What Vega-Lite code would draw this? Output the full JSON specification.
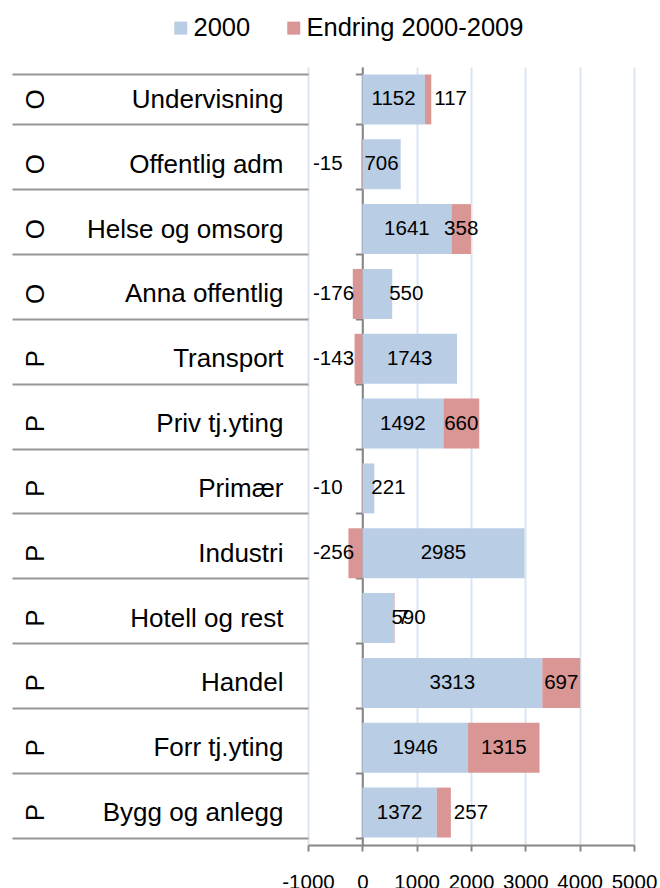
{
  "$schema": "https://vega.github.io/schema/vega-lite/v6.json",
  "width": 326,
  "height": 778,
  "autosize": {"type": "none"},
  "padding": {"left": 308, "top": 67, "right": 26, "bottom": 43},
  "background": "white",
  "config": {"font": "Liberation Sans", "view": {"stroke": null}},
  "data": {
    "values": [
      {"group": "O", "sector": "Undervisning", "series": "2000", "value": 1152},
      {"group": "O", "sector": "Undervisning", "series": "Endring 2000-2009", "value": 117},
      {"group": "O", "sector": "Offentlig adm", "series": "2000", "value": 706},
      {"group": "O", "sector": "Offentlig adm", "series": "Endring 2000-2009", "value": -15},
      {"group": "O", "sector": "Helse og omsorg", "series": "2000", "value": 1641},
      {"group": "O", "sector": "Helse og omsorg", "series": "Endring 2000-2009", "value": 358},
      {"group": "O", "sector": "Anna offentlig", "series": "2000", "value": 550},
      {"group": "O", "sector": "Anna offentlig", "series": "Endring 2000-2009", "value": -176},
      {"group": "P", "sector": "Transport", "series": "2000", "value": 1743},
      {"group": "P", "sector": "Transport", "series": "Endring 2000-2009", "value": -143},
      {"group": "P", "sector": "Priv tj.yting", "series": "2000", "value": 1492},
      {"group": "P", "sector": "Priv tj.yting", "series": "Endring 2000-2009", "value": 660},
      {"group": "P", "sector": "Primær", "series": "2000", "value": 221},
      {"group": "P", "sector": "Primær", "series": "Endring 2000-2009", "value": -10},
      {"group": "P", "sector": "Industri", "series": "2000", "value": 2985},
      {"group": "P", "sector": "Industri", "series": "Endring 2000-2009", "value": -256},
      {"group": "P", "sector": "Hotell og rest", "series": "2000", "value": 590},
      {"group": "P", "sector": "Hotell og rest", "series": "Endring 2000-2009", "value": 7},
      {"group": "P", "sector": "Handel", "series": "2000", "value": 3313},
      {"group": "P", "sector": "Handel", "series": "Endring 2000-2009", "value": 697},
      {"group": "P", "sector": "Forr tj.yting", "series": "2000", "value": 1946},
      {"group": "P", "sector": "Forr tj.yting", "series": "Endring 2000-2009", "value": 1315},
      {"group": "P", "sector": "Bygg og anlegg", "series": "2000", "value": 1372},
      {"group": "P", "sector": "Bygg og anlegg", "series": "Endring 2000-2009", "value": 257}
    ]
  },
  "transform": [{"calculate": "datum.group + '|' + datum.sector", "as": "key"}],
  "layer": [
    {
      "mark": {"type": "bar"},
      "encoding": {
        "y": {
          "field": "key", "type": "nominal", "sort": null,
          "scale": {"paddingInner": 0.23, "paddingOuter": 0.115},
          "axis": {
            "orient": "left", "title": null, "labelExpr": "split(datum.label, '|')[1]",
            "labelFontSize": 26, "labelColor": "black", "labelFont": "Liberation Sans",
            "labelAlign": "right", "labelBaseline": "middle", "labelLimit": 0,
            "tickBand": "extent", "tickSize": 296, "tickColor": "#969696", "tickWidth": 2,
            "labelPadding": -271, "domain": false, "grid": false, "offset": 0
          }
        },
        "x": {
          "field": "value", "type": "quantitative", "stack": "zero",
          "scale": {"domain": [-1000, 5000], "nice": false, "zero": false},
          "axis": {
            "title": null, "values": [-1000, 0, 1000, 2000, 3000, 4000, 5000],
            "labelExpr": "'' + datum.value", "labelOverlap": false, "labelFlush": false,
            "grid": true, "gridColor": "#dbe5f1", "gridWidth": 2,
            "domainColor": "#868686", "domainWidth": 2,
            "tickColor": "#868686", "tickWidth": 2, "tickSize": 6,
            "labelFontSize": 20.5, "labelPadding": 21, "labelColor": "black",
            "labelFont": "Liberation Sans"
          }
        },
        "order": {"field": "series", "sort": "ascending"},
        "color": {
          "field": "series", "type": "nominal",
          "scale": {"domain": ["2000", "Endring 2000-2009"], "range": ["#b9cde5", "#d99694"]},
          "legend": {
            "orient": "none", "legendX": -140, "legendY": -52, "direction": "horizontal",
            "title": null, "symbolType": "square", "symbolSize": 169, "symbolStrokeWidth": 0,
            "symbolOpacity": 1, "labelFontSize": 25.5, "labelFont": "Liberation Sans",
            "labelColor": "black", "labelOffset": 0, "columnPadding": 30, "padding": 0,
            "labelLimit": 0
          }
        }
      }
    },
    {
      "mark": {"type": "text", "fontSize": 20.5, "align": "center", "baseline": "middle", "color": "black"},
      "encoding": {
        "y": {
          "field": "key", "type": "nominal", "sort": null,
          "axis": {
            "orient": "left", "title": null, "labelExpr": "split(datum.label, '|')[0]",
            "labelAngle": 270, "labelAlign": "center", "labelBaseline": "middle",
            "labelFontSize": 26, "labelColor": "black", "labelFont": "Liberation Sans",
            "ticks": false, "tickSize": 0, "domain": false, "grid": false, "labelPadding": 273
          }
        },
        "x": {"field": "value", "type": "quantitative", "stack": "zero", "bandPosition": 0.5},
        "order": {"field": "series", "sort": "ascending"},
        "detail": {"field": "series"},
        "text": {
          "condition": {"test": "(datum.series == '2000' && datum.value >= 650) || (datum.series != '2000' && datum.value >= 300)", "field": "value", "type": "nominal"},
          "value": ""
        }
      }
    },
    {
      "mark": {"type": "text", "fontSize": 20.5, "align": "left", "baseline": "middle", "color": "black", "dx": -3},
      "encoding": {
        "y": {"field": "key", "type": "nominal", "sort": null, "axis": null},
        "x": {"field": "value", "type": "quantitative", "stack": "zero"},
        "order": {"field": "series", "sort": "ascending"},
        "detail": {"field": "series"},
        "text": {
          "condition": {"test": "datum.series == '2000' && datum.value < 650", "field": "value", "type": "nominal"},
          "value": ""
        }
      }
    },
    {
      "mark": {"type": "text", "fontSize": 20.5, "align": "left", "baseline": "middle", "color": "black", "dx": 3},
      "encoding": {
        "y": {"field": "key", "type": "nominal", "sort": null, "axis": null},
        "x": {"field": "value", "type": "quantitative", "stack": "zero"},
        "order": {"field": "series", "sort": "ascending"},
        "detail": {"field": "series"},
        "text": {
          "condition": {"test": "datum.series != '2000' && datum.value >= 0 && datum.value < 300", "field": "value", "type": "nominal"},
          "value": ""
        }
      }
    },
    {
      "mark": {"type": "text", "fontSize": 20.5, "align": "left", "baseline": "middle", "color": "black", "dx": 5},
      "encoding": {
        "y": {
          "field": "key", "type": "nominal", "sort": null,
          "axis": {
            "orient": "left", "title": null, "offset": -54.33, "labels": false,
            "tickBand": "extent", "tickSize": 7, "tickColor": "#868686", "tickWidth": 2,
            "domainColor": "#868686", "domainWidth": 2, "grid": false
          }
        },
        "x": {"datum": -1000, "type": "quantitative"},
        "text": {
          "condition": {"test": "datum.value < 0", "field": "value", "type": "nominal"},
          "value": ""
        }
      }
    }
  ],
  "resolve": {"axis": {"y": "independent"}}
}
